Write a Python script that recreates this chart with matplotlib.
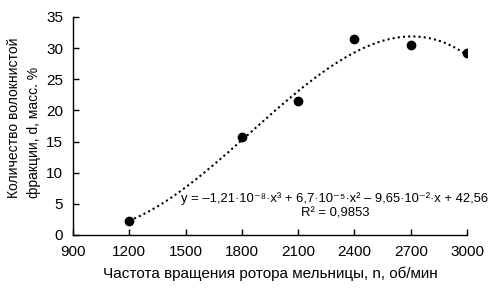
import matplotlib.pyplot as plt
import numpy as np

plt.rcParams['font.family'] = ['Liberation Sans', 'DejaVu Sans']

# DATA
speed = [1200, 1800, 2100, 2400, 2700, 3000]
fraction = [2.3, 15.7, 21.5, 31.5, 30.5, 29.2]
xticks = [900, 1200, 1500, 1800, 2100, 2400, 2700, 3000]
yticks = [0, 5, 10, 15, 20, 25, 30, 35]

fig = plt.figure(figsize=(4.97, 2.91), dpi=100)
ax = fig.add_axes([73/497, 1 - 235/291, 394/497, 218/291])

# polynomial trend line (3rd order)
p = np.polyfit(speed, fraction, 3)
xs = np.linspace(speed[0], speed[-1], 200)
ax.plot(xs, np.polyval(p, xs), color='black', linestyle=(0, (1, 1.5)),
        linewidth=1.5, zorder=1)

ax.plot(speed, fraction, 'o', color='black', markersize=6, zorder=2)

ax.set_xlim(900, 3000)
ax.set_ylim(0, 35)
ax.set_xticks(xticks)
ax.set_yticks(yticks)
ax.tick_params(direction='in', length=4, width=1, labelsize=11, pad=7)
for s in ['top', 'right']:
    ax.spines[s].set_visible(False)
for s in ['left', 'bottom']:
    ax.spines[s].set_linewidth(1)

ax.set_xlabel('Частота вращения ротора мельницы, n, об/мин', fontsize=11, labelpad=6)
ax.set_ylabel('Количество волокнистой\nфракции, d, масс. %', fontsize=10,
              linespacing=1.5, multialignment='left')
ax.yaxis.set_label_coords((41 - 73) / 394, (235 - 118) / 218)

# trend line equation, centred around x = 335 px
eq_x = (335 - 73) / 394
ax.text(eq_x, (235 - 199) / 218,
        'y = –1,21·10⁻⁸·x³ + 6,7·10⁻⁵·x² – 9,65·10⁻²·x + 42,56',
        transform=ax.transAxes, ha='center', va='center', fontsize=9.4,
        clip_on=False)
ax.text(eq_x, (235 - 214) / 218, 'R² = 0,9853', transform=ax.transAxes,
        ha='center', va='center', fontsize=9.4)

plt.savefig('out.png', dpi=100)
